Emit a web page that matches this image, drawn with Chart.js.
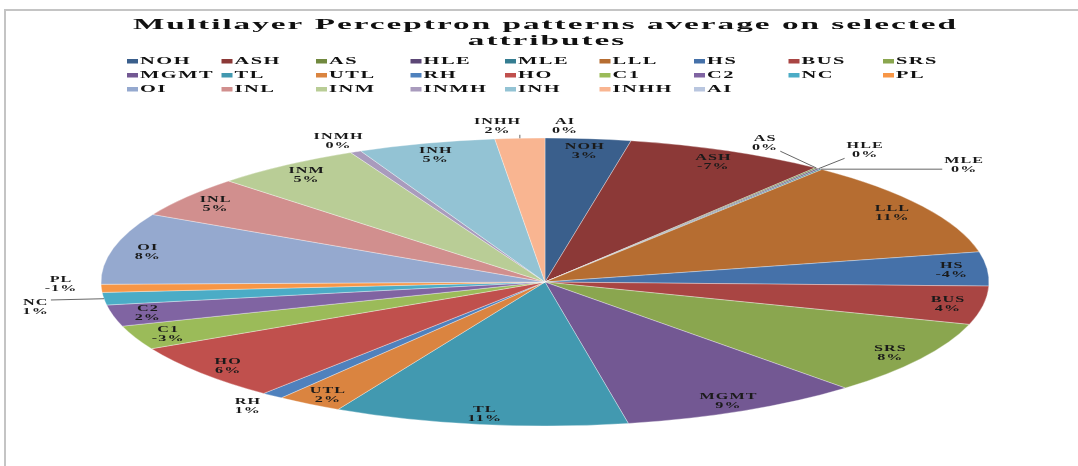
<!DOCTYPE html>
<html><head><meta charset="utf-8">
<script src="https://cdn.jsdelivr.net/npm/chart.js@4"></script>
<style>html,body{margin:0;padding:0;background:#fff;overflow:hidden}</style>
</head><body>
<canvas id="c" width="1078" height="466" style="display:block;width:1078px;height:466px"></canvas>
<script>
// ---- data ----
const categories = ['NOH','ASH','AS','HLE','MLE','LLL','HS','BUS','SRS','MGMT','TL','UTL','RH','HO','C1','C2','NC','PL','OI','INL','INM','INMH','INH','INHH','AI'];
const values = [3.1,-7.3,0.1,0.1,0.1,10.9,-3.8,4.3,8.4,8.8,10.7,2.4,0.8,6.4,-2.7,2.4,1.4,-0.9,8.0,4.6,5.4,0.4,5.0,1.8,0];
const colors = ['#3A5F8C','#8C3937','#71893F','#5C4776','#357D91','#B66D31','#4571A9','#A94543','#8AA64F','#735893','#4299B0','#DA8440','#4F81BD','#C0504D','#9BBB59','#8064A2','#4BACC6','#F79646','#95A9CF','#D18F8E','#B9CD96','#A99BBD','#93C3D4','#F9B591','#B9C6DF'];
const titleLines = ['Multilayer Perceptron patterns average on selected','attributes'];

// ---- layout / style ----
const SERIF = '"Liberation Serif","Times New Roman",serif';
const RY = 144, RX = 444, SX = RX / RY;   // elliptical (tilted) pie
const TS = 2.15;                          // horizontal stretch of text
function sText(ctx, txt, x, y, s, align, ls){
  ctx.save(); ctx.translate(x, y); ctx.scale(s, 1);
  ctx.letterSpacing = (ls || 0) + 'px';
  ctx.textAlign = align; ctx.fillText(txt, 0, 0); ctx.restore();
}
function wText(ctx, txt, ls){
  ctx.save(); ctx.letterSpacing = (ls || 0) + 'px'; const w = ctx.measureText(txt).width; ctx.restore(); return w;
}

const framePlugin = {
  id:'frame',
  beforeDraw(chart){
    const ctx = chart.ctx;
    ctx.save();
    ctx.fillStyle = '#fff'; ctx.fillRect(0,0,chart.width,chart.height);
    ctx.strokeStyle = '#c4c4c4'; ctx.lineWidth = 2;
    ctx.beginPath(); ctx.moveTo(5, chart.height); ctx.lineTo(5, 10); ctx.lineTo(chart.width, 10); ctx.stroke();
    // title
    ctx.fillStyle = '#111'; ctx.textBaseline = 'alphabetic';
    ctx.font = 'bold 15px ' + SERIF;
    const w = wText(ctx, titleLines[0], 0.9);
    const s = 825 / w;
    sText(ctx, titleLines[0], 545.5, 29, s, 'center', 0.9);
    sText(ctx, titleLines[1], 547, 45, s, 'center', 0.9);
    // legend
    const ds = chart.data.datasets[0];
    ctx.font = 'bold 9.5px ' + SERIF;
    chart.data.labels.forEach((lab, i) => {
      const row = Math.floor(i / 9), col = i % 9;
      const x = 127 + col * 94.5, y = 61 + row * 14;
      ctx.fillStyle = ds.backgroundColor[i];
      ctx.fillRect(x, y - 2, 11, 4.5);
      ctx.fillStyle = '#111';
      sText(ctx, lab, x + 13, y + 3.3, TS, 'left', 0.7);
    });
    ctx.restore();
  }
};

const ellipsePlugin = {
  id:'ellipse',
  beforeDatasetsDraw(chart){
    const a = chart.getDatasetMeta(0).data[0];
    const ctx = chart.ctx;
    ctx.save(); ctx.translate(a.x, a.y); ctx.scale(SX, 1); ctx.translate(-a.x, -a.y);
  },
  afterDatasetsDraw(chart){ chart.ctx.restore(); }
};

const labelPlugin = {
  id:'labels',
  afterDraw(chart){
    const ctx = chart.ctx;
    const meta = chart.getDatasetMeta(0);
    const data = chart.data.datasets[0].data;
    const total = data.reduce((s,v)=>s+v,0);
    const cx = meta.data[0].x, cy = meta.data[0].y, r = meta.data[0].outerRadius;
    const pt = (rho, t) => [cx + SX * r * rho * Math.sin(t), cy - r * rho * Math.cos(t)];
    ctx.save();
    ctx.font = 'bold 7.5px ' + SERIF;
    ctx.textBaseline = 'alphabetic';
    const LS = 0.5;
    const items = meta.data.map((arc, i) => {
      const t = (arc.startAngle + arc.endAngle) / 2 + Math.PI / 2;
      const share = data[i] / total * 100;
      let p = Math.round(share);
      const txt = (p === 0 ? '0' : (values[i] < 0 ? '-' : '') + p) + '%';
      return {i, t, share, txt, name: categories[i], outside: share < 2, leader: false};
    });
    // group consecutive outside labels with close angles, then spread them
    const groups = [];
    items.forEach(it => {
      if (!it.outside) return;
      const g = groups[groups.length - 1];
      if (g && Math.abs(it.t - g[g.length - 1].t) < 6 * Math.PI / 180) g.push(it); else groups.push([it]);
    });
    groups.forEach(g => {
      const n = g.length;
      const mean = g.reduce((s, it) => s + it.t, 0) / n;
      const step = (n >= 3 ? 11 : 8) * Math.PI / 180;
      g.forEach((it, k) => {
        it.lt = n === 1 ? it.t : mean + (k - (n - 1) / 2) * step;
        it.rho = n >= 3 ? 1.09 + 0.08 * k : (n === 2 && k === 0 && Math.abs(Math.sin(mean)) > 0.7 ? 1.16 : 1.09);
        it.leader = n >= 3 || (n === 2 && k === 0);
      });
    });
    items.forEach(it => {
      const rho = it.outside ? it.rho : 0.92;
      const t = it.outside ? it.lt : it.t;
      const [x, y] = pt(rho, t);
      const w = Math.max(wText(ctx, it.name, LS), wText(ctx, it.txt, LS)) * TS;
      if (it.leader) {
        const [ex, ey] = pt(1.0, it.t);
        const bx0 = x - w / 2 - 2, bx1 = x + w / 2 + 2, by0 = y - 7, by1 = y + 9;
        const nx = Math.min(Math.max(ex, bx0), bx1), ny = Math.min(Math.max(ey, by0), by1);
        ctx.strokeStyle = '#555'; ctx.lineWidth = 0.9;
        ctx.beginPath(); ctx.moveTo(ex, ey); ctx.lineTo(nx, ny); ctx.stroke();
      }
      ctx.fillStyle = '#1a1a1a';
      sText(ctx, it.name, x, y - 1.5, TS, 'center', LS);
      sText(ctx, it.txt, x, y + 7.5, TS, 'center', LS);
    });
    ctx.restore();
  }
};

new Chart(document.getElementById('c'), {
  type: 'pie',
  data: {
    labels: categories,
    datasets: [{
      data: values.map(v => Math.abs(v)),
      backgroundColor: colors,
      borderWidth: 0.3,
      borderColor: 'rgba(255,255,255,0.55)',
      radius: RY
    }]
  },
  options: {
    responsive: false,
    animation: false,
    events: [],
    layout: { padding: { top: 138, bottom: 40, left: 12, right: 0 } },
    plugins: { legend: { display: false }, title: { display: false }, tooltip: { enabled: false } }
  },
  plugins: [framePlugin, ellipsePlugin, labelPlugin]
});
</script>
</body></html>
